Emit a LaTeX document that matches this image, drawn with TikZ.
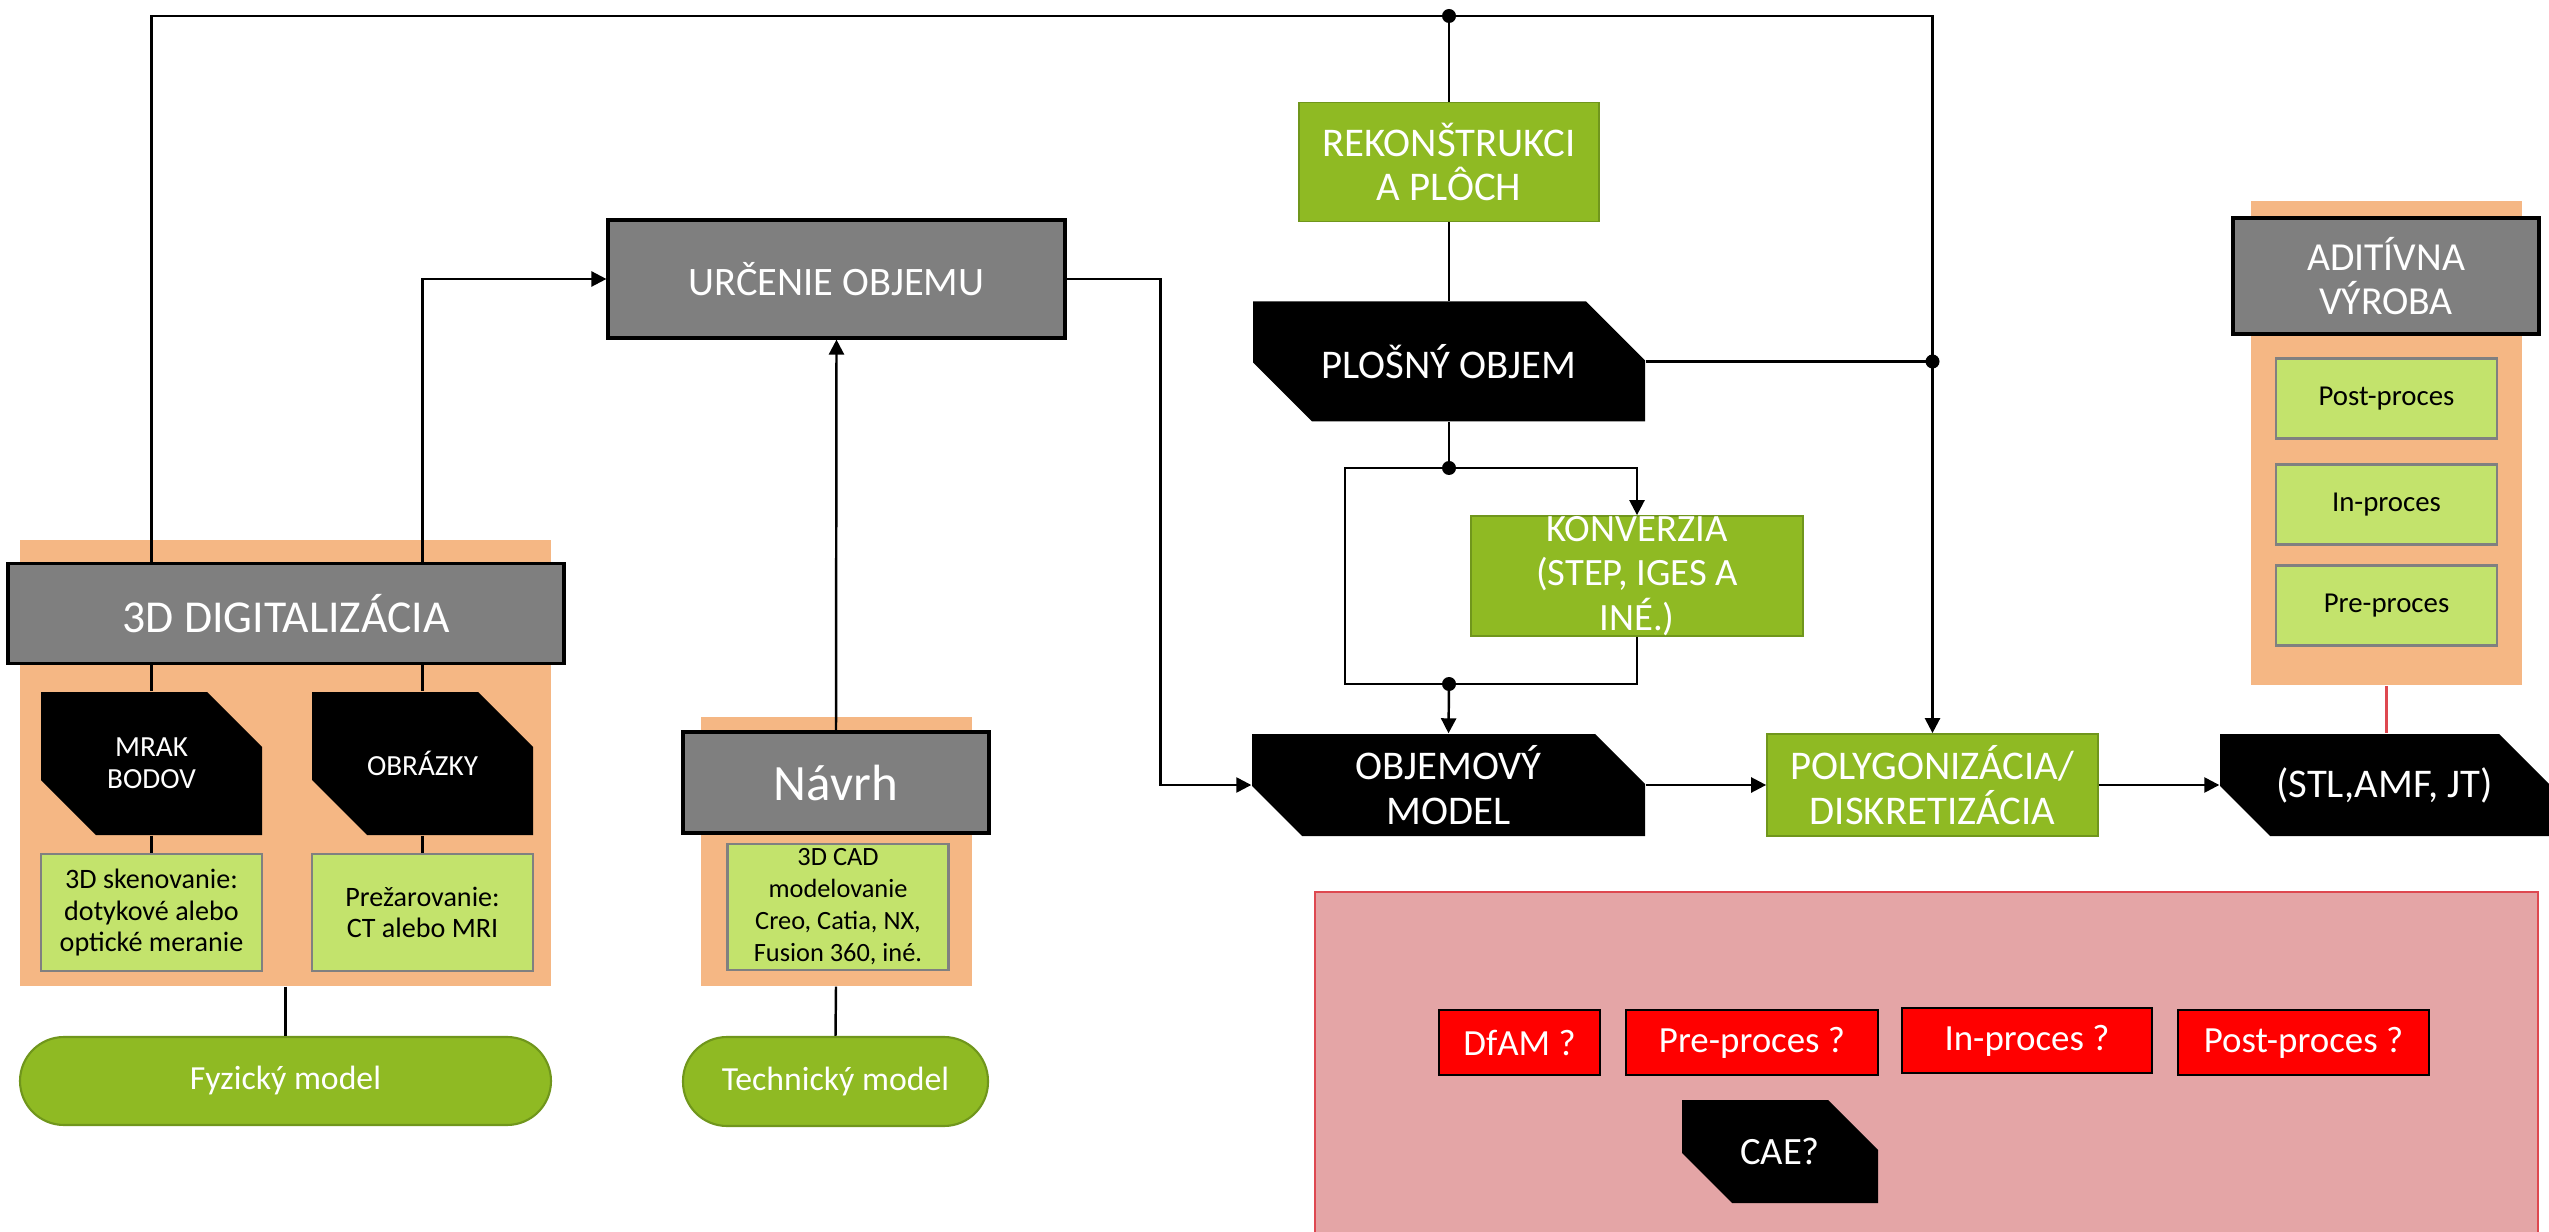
\documentclass[tikz,border=0pt]{standalone}
\usepackage{fontspec}
\setmainfont{Carlito}
\usepackage{xcolor}
\usepackage{tikz}
\usetikzlibrary{arrows.meta,positioning,calc}

\definecolor{headgray}{RGB}{127,127,127}
\definecolor{stepgreen}{RGB}{143,186,35}
\definecolor{stepline}{RGB}{112,150,28}
\definecolor{toolgreen}{RGB}{195,227,108}
\definecolor{panelorange}{RGB}{245,183,132}
\definecolor{openpink}{RGB}{228,165,166}
\definecolor{openline}{RGB}{222,72,80}
\definecolor{askred}{RGB}{255,0,0}

\tikzset{
    chamfer/.initial=5mm,
    panel/.style={rectangle, fill=panelorange, inner sep=0},
    headbox/.style={rectangle, draw, line width=0.9pt, fill=headgray, text=white, align=center, inner sep=0, font=\fontsize{11.5}{13}\selectfont},
    stepbox/.style={rectangle, draw=stepline, line width=0.5pt, fill=stepgreen, text=white, align=center, inner sep=0, font=\fontsize{11.6}{12.7}\selectfont},
    toolbox/.style={rectangle, draw=gray, line width=0.6pt, fill=toolgreen, align=center, inner sep=0, font=\fontsize{8}{9}\selectfont},
    model/.style={rectangle, rounded corners=4.4mm, draw=stepline, line width=0.6pt, fill=stepgreen, text=white, inner sep=0, font=\fontsize{9.6}{11}\selectfont},
    datablock/.style={rectangle, inner sep=0, text=white, align=center, font=\fontsize{11.6}{12.7}\selectfont,
        path picture={
            \fill[black] (path picture bounding box.north west)
                -- ([xshift=-\pgfkeysvalueof{/tikz/chamfer}]path picture bounding box.north east)
                -- ([yshift=-\pgfkeysvalueof{/tikz/chamfer}]path picture bounding box.north east)
                -- (path picture bounding box.south east)
                -- ([xshift=\pgfkeysvalueof{/tikz/chamfer}]path picture bounding box.south west)
                -- ([yshift=\pgfkeysvalueof{/tikz/chamfer}]path picture bounding box.south west)
                -- cycle;
        }},
    askbox/.style={rectangle, draw, line width=0.8pt, fill=askred, text=white, inner sep=0, minimum height=6.5mm, font=\fontsize{10.5}{12}\selectfont},
    link/.style={line width=0.7pt},
    flow/.style={-{Triangle[length=1.5mm, width=1.5mm]}, line width=0.7pt},
}

\begin{document}
\begin{tikzpicture}[x=0.1mm, y=-0.1mm]
    \useasboundingbox (0,0) rectangle (2549,1232);

    % orange panels and the open-questions area
    \node[panel, minimum width=53.1mm, minimum height=44.6mm] (bgdig) at (285.5,763) {};
    \node[panel, minimum width=27.1mm, minimum height=26.9mm] (bgnav) at (836.5,851.5) {};
    \node[panel, minimum width=27.1mm, minimum height=48.4mm] (bgadd) at (2386.5,443.5) {};
    \node[rectangle, fill=openpink, draw=openline, line width=0.5pt, inner sep=0, minimum width=122.3mm, minimum height=35mm] (bgq) at (1926.5,1067) {};

    % physical model branch
    \node[headbox, minimum width=55.6mm, minimum height=10mm, font=\fontsize{13}{14}\selectfont] (dig) at (286,613.5) {3D DIGITALIZÁCIA};
    \node[datablock, chamfer=5.5mm, minimum width=22.1mm, minimum height=14.3mm, font=\fontsize{8.3}{9}\selectfont] (mrak) at (151.5,763.5) {MRAK\\BODOV};
    \node[datablock, chamfer=5.5mm, minimum width=22.1mm, minimum height=14.3mm, font=\fontsize{8.3}{9}\selectfont] (obr) at (422.5,763.5) {OBRÁZKY};
    \node[toolbox, minimum width=22.1mm, minimum height=11.7mm] (skn) at (151.5,912.5) {3D skenovanie:\\dotykové alebo\\optické meranie};
    \node[toolbox, minimum width=22.1mm, minimum height=11.7mm] (prez) at (422.5,912.5) {Prežarovanie:\\CT alebo MRI};
    \node[model, minimum width=53.1mm, minimum height=8.8mm] (fyz) at (285.5,1081) {Fyzický model};

    % technical model branch
    \node[headbox, minimum width=45.7mm, minimum height=11.8mm] (urc) at (836.5,279) {URČENIE OBJEMU};
    \node[headbox, minimum width=30.6mm, minimum height=10.1mm, font=\fontsize{14.5}{16}\selectfont] (navrh) at (836,782.5) {Návrh};
    \node[toolbox, minimum width=22.1mm, minimum height=12.6mm, font=\fontsize{7.5}{9.1}\selectfont] (cad) at (838,907) {3D CAD\\modelovanie\\Creo, Catia, NX,\\Fusion 360, iné.};
    \node[model, minimum width=30.5mm, minimum height=8.9mm] (tech) at (835.5,1081.5) {Technický model};

    % surface and solid data
    \node[stepbox, minimum width=30mm, minimum height=11.9mm] (rek) at (1449,162) {REKONŠTRUKCI\\A PLÔCH};
    \node[datablock, chamfer=5.9mm, minimum width=39.2mm, minimum height=12mm] (plos) at (1449,361.5) {PLOŠNÝ OBJEM};
    \node[stepbox, minimum width=33.2mm, minimum height=12mm, font=\fontsize{11}{12.7}\selectfont] (konv) at (1637,576) {KONVERZIA\\(STEP, IGES A\\INÉ.)};
    \node[datablock, chamfer=5mm, minimum width=39.3mm, minimum height=10.2mm] (obj) at (1448.5,785) {OBJEMOVÝ\\MODEL};
    \node[stepbox, minimum width=33.1mm, minimum height=10.2mm] (poly) at (1932.5,785) {POLYGONIZÁCIA/\\DISKRETIZÁCIA};
    \node[datablock, chamfer=5mm, minimum width=32.9mm, minimum height=10.2mm] (stl) at (2384.5,785) {(STL,AMF, JT)};

    % additive manufacturing stack
    \node[headbox, minimum width=30.6mm, minimum height=11.6mm, font=\fontsize{11.3}{12.7}\selectfont] (adit) at (2386,276) {ADITÍVNA\\VÝROBA};
    \node[toolbox, minimum width=22.1mm, minimum height=8mm, font=\fontsize{8.2}{9.5}\selectfont] (post) at (2386.5,398.5) {Post-proces};
    \node[toolbox, minimum width=22.1mm, minimum height=8mm, font=\fontsize{8.2}{9.5}\selectfont] (inpr) at (2386.5,504.5) {In-proces};
    \node[toolbox, minimum width=22.1mm, minimum height=8mm, font=\fontsize{8.2}{9.5}\selectfont] (prepr) at (2386.5,605.5) {Pre-proces};

    % open questions
    \node[askbox, minimum width=16.1mm] (dfam) at (1519.5,1042.5) {DfAM ?};
    \node[askbox, minimum width=25.2mm] (preq) at (1752,1042.5) {Pre-proces ?};
    \node[askbox, minimum width=25mm] (inq) at (2027,1040.5) {In-proces ?};
    \node[askbox, minimum width=25.1mm] (postq) at (2303.5,1042.5) {Post-proces ?};
    \node[datablock, chamfer=5mm, minimum width=19.6mm, minimum height=10.3mm, font=\fontsize{11}{12.7}\selectfont] (cae) at (1780,1151.5) {CAE?};

    % junction points
    \coordinate (jtop) at (1449,16);
    \coordinate (jsurf) at (1449,468);
    \coordinate (jsolid) at (1449,684);
    \coordinate (jpoly) at (poly.north |- plos.east);
    \coordinate (loopl) at (1345,0);

    % connectors
    \draw[flow] (dig.north -| mrak.north) |- (jtop) -| (poly.north);
    \draw[link] (jtop) -- (rek.north);
    \draw[link] (rek.south) -- (plos.north);
    \draw[link] (plos.east) -- (jpoly);
    \draw[flow] (dig.north -| obr.north) |- (urc.west);
    \draw[flow] (navrh.north) -- (urc.south);
    \draw[flow] (urc.east) -- ++(94,0) |- (obj.west);
    \draw[link] (plos.south) -- (jsurf);
    \draw[flow] (jsurf) -| (konv.north);
    \draw[link] (jsurf) -- (jsurf -| loopl) |- (jsolid);
    \draw[link] (konv.south) |- (jsolid);
    \draw[flow] (jsolid) -- (obj.north);
    \draw[flow] (obj.east) -- (poly.west);
    \draw[flow] (poly.east) -- (stl.west);
    \draw[link, openline] (bgadd.south) -- (bgadd.south |- stl.north);

    \draw[link] (dig.south -| mrak.north) -- (mrak.north);
    \draw[link] (mrak.south) -- (skn.north);
    \draw[link] (dig.south -| obr.north) -- (obr.north);
    \draw[link] (obr.south) -- (prez.north);
    \draw[link] (bgdig.south) -- (fyz.north);
    \draw[link] (bgnav.south -| navrh.south) -- (tech.north);

    \foreach \j in {jtop, jsurf, jsolid, jpoly}
        \fill (\j) circle (0.7mm);
\end{tikzpicture}
\end{document}
